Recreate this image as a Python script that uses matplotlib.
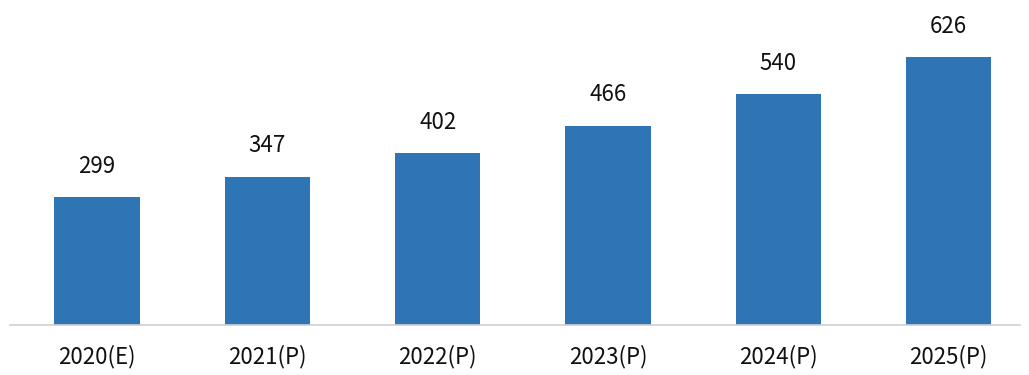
import matplotlib

matplotlib.use("Agg")
import matplotlib.pyplot as plt

YEARS = ["2020(E)", "2021(P)", "2022(P)", "2023(P)", "2024(P)", "2025(P)"]
VALUES = [299, 347, 402, 466, 540, 626]

BAR_COLOR = "#2E75B6"
FONT = ["Noto Sans CJK KR", "DejaVu Sans"]


def main() -> None:
    fig = plt.figure(figsize=(10.29, 3.75), dpi=100)
    ax = fig.add_axes([0.010, 0.133, 0.981, 0.867])
    x = range(len(YEARS))
    ax.bar(x, VALUES, width=0.5, color=BAR_COLOR, zorder=2)

    for xi, v in zip(x, VALUES):
        ax.annotate(
            f"{v}",
            (xi, v),
            xytext=(0, 14),
            textcoords="offset points",
            ha="center",
            va="bottom",
            fontsize=16,
            fontweight="medium",
            family=FONT,
            color="#111111",
        )

    ax.set_xlim(-0.509, 5.417)
    ax.set_ylim(0, 760)
    ax.set_xticks(list(x))
    ax.set_xticklabels(YEARS, fontsize=16, fontweight="medium", family=FONT,
                       color="#111111")
    ax.tick_params(axis="x", length=0, pad=14)
    ax.set_yticks([])
    for side in ("top", "right", "left"):
        ax.spines[side].set_visible(False)
    ax.spines["bottom"].set_color("#D0D0D0")
    ax.spines["bottom"].set_linewidth(1.2)

    fig.savefig("out.png", dpi=100, facecolor="white")
    plt.close(fig)


if __name__ == "__main__":
    main()
